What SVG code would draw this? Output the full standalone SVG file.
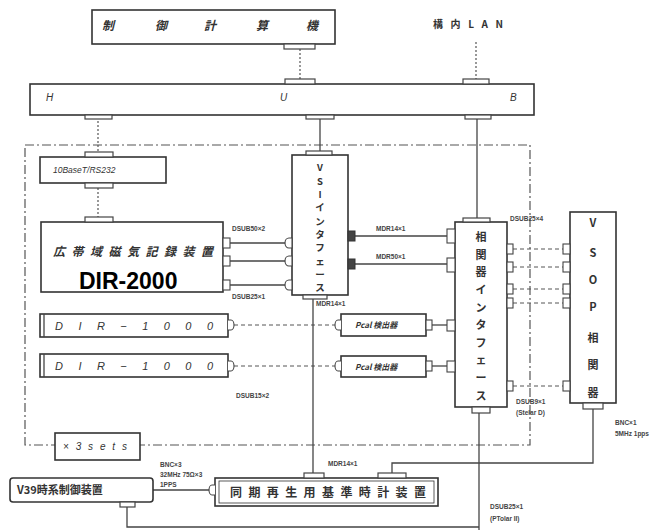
<svg xmlns="http://www.w3.org/2000/svg" width="672" height="530" viewBox="0 0 672 530">
<defs>
<style>
.box{fill:#fff;stroke:#333;stroke-width:1.6}
.tab{fill:#fff;stroke:#444;stroke-width:1.2}
.ln{fill:none;stroke:#444;stroke-width:1.3}
.dot{fill:none;stroke:#555;stroke-width:1.2;stroke-dasharray:2 2}
.dash{fill:none;stroke:#555;stroke-width:1;stroke-dasharray:4 3}
.dd{fill:none;stroke:#555;stroke-width:1.2;stroke-dasharray:9 3 2 3}
.lbl{font-family:"Liberation Sans","Noto Sans CJK JP",sans-serif;font-size:6.5px;font-weight:bold;fill:#444}
.jp{font-family:"Noto Sans CJK JP","Liberation Sans",sans-serif;font-weight:bold;fill:#333}
.it{font-family:"Liberation Sans","Noto Sans CJK JP",sans-serif;font-style:italic;fill:#333}
.vt{font-family:"Noto Sans CJK JP","Liberation Sans",sans-serif;font-weight:bold;font-size:11px;fill:#333;text-anchor:middle}
.vs{font-family:"Noto Sans CJK JP","Liberation Sans",sans-serif;font-weight:bold;font-size:9.5px;fill:#333;text-anchor:middle}
.sq{fill:#fff;stroke:#444;stroke-width:1.1}
.dk{fill:#444;stroke:#333;stroke-width:1}
</style>
</defs>

<!-- boundary -->
<rect class="dd" x="25" y="145" width="505" height="300"/>

<g id="connectors">
<line class="dot" x1="300" y1="49" x2="300" y2="80"/>
<line class="dot" x1="476" y1="42" x2="476" y2="80"/>
<line class="dot" x1="98" y1="117" x2="98" y2="152"/>
<line class="ln" x1="320" y1="119" x2="320" y2="151"/>
<line class="ln" x1="477" y1="119" x2="477" y2="218"/>
<line class="dot" x1="98" y1="188" x2="98" y2="217"/>
<line class="ln" x1="230" y1="243" x2="287" y2="243"/>
<line class="ln" x1="230" y1="261" x2="287" y2="261"/>
<line class="ln" x1="230" y1="285" x2="287" y2="285"/>
<line class="ln" x1="355" y1="236" x2="447" y2="236"/>
<line class="ln" x1="355" y1="264" x2="447" y2="264"/>
<line class="dash" x1="513" y1="249" x2="563" y2="249"/>
<line class="dash" x1="513" y1="267" x2="563" y2="267"/>
<line class="dash" x1="513" y1="289" x2="563" y2="289"/>
<line class="dash" x1="513" y1="303" x2="563" y2="303"/>
<line class="dash" x1="513" y1="386" x2="563" y2="386"/>
<line class="dash" x1="234" y1="325" x2="335" y2="325"/>
<line class="dash" x1="234" y1="366" x2="335" y2="366"/>
<line class="ln" x1="432" y1="325" x2="447" y2="325"/>
<line class="ln" x1="432" y1="366" x2="447" y2="366"/>
<line class="ln" x1="313" y1="299" x2="313" y2="473"/>
<line class="ln" x1="479" y1="413" x2="479" y2="530"/>
<polyline class="ln" points="593,409 593,463 392,463 392,473"/>
<polyline class="ln" points="127,507 127,527 479,527"/>
<line class="ln" x1="153" y1="490" x2="211" y2="490"/>
</g>

<g id="ctrl">
<rect class="box" x="92" y="10" width="243" height="34"/>
<text class="jp" font-size="12" font-style="italic"><tspan x="102" y="30">制</tspan><tspan x="155" y="30">御</tspan><tspan x="204" y="30">計</tspan><tspan x="256" y="30">算</tspan><tspan x="306" y="30">機</tspan></text>
<rect class="tab" x="284" y="44" width="31" height="5"/>
</g>

<g id="lan">
<text class="jp" x="433" y="28" font-size="10" textLength="70" lengthAdjust="spacing">構内LAN</text>
</g>

<g id="hub">
<rect class="box" x="30" y="84" width="504" height="31"/>
<rect class="tab" x="285" y="79" width="30" height="5"/>
<rect class="tab" x="463" y="79" width="26" height="5"/>
<rect class="tab" x="85" y="115" width="27" height="4"/>
<rect class="tab" x="306" y="115" width="28" height="4"/>
<rect class="tab" x="465" y="115" width="26" height="4"/>
<text class="it" x="46" y="101" font-size="10">H</text>
<text class="it" x="280" y="101" font-size="10">U</text>
<text class="it" x="510" y="101" font-size="10">B</text>
</g>

<g id="base">
<rect class="box" x="40" y="157" width="126" height="26"/>
<rect class="tab" x="85" y="152" width="28" height="5"/>
<rect class="tab" x="85" y="183" width="28" height="5"/>
<text class="it" x="53" y="173" font-size="8.5">10BaseT/RS232</text>
</g>

<g id="dir2000">
<rect class="box" x="41" y="222" width="182" height="70"/>
<rect class="tab" x="85" y="217" width="28" height="5"/>
<text class="jp" x="53" y="256" font-size="12" font-style="italic" textLength="160" lengthAdjust="spacing">広帯域磁気記録装置</text>
<text x="79" y="289" font-family="Liberation Sans,Arial,sans-serif" font-weight="bold" font-size="23" fill="#000">DIR-2000</text>
<rect class="sq" x="223" y="238" width="7" height="10"/>
<rect class="sq" x="223" y="256" width="7" height="10"/>
<rect class="sq" x="223" y="280" width="7" height="10"/>
</g>

<g id="vsi">
<rect class="box" x="292" y="155" width="56" height="140"/>
<rect class="tab" x="306" y="151" width="26" height="4"/>
<rect class="tab" x="303" y="295" width="24" height="4"/>
<path class="sq" d="M292,238 h-3 a4,5 0 0 0 0,10 h3 z"/>
<path class="sq" d="M292,256 h-3 a4,5 0 0 0 0,10 h3 z"/>
<path class="sq" d="M292,280 h-3 a4,5 0 0 0 0,10 h3 z"/>
<rect class="dk" x="348" y="231" width="7" height="10"/>
<rect class="dk" x="348" y="259" width="7" height="10"/>
<text class="vs"><tspan x="320" y="171">V</tspan><tspan x="320" y="184.5">S</tspan><tspan x="320" y="198">I</tspan><tspan x="320" y="211">イ</tspan><tspan x="320" y="224.5">ン</tspan><tspan x="320" y="238">タ</tspan><tspan x="320" y="251">フ</tspan><tspan x="320" y="264.5">ェ</tspan><tspan x="320" y="278">ー</tspan><tspan x="320" y="291">ス</tspan></text>
</g>

<g id="corr">
<rect class="box" x="455" y="222" width="52" height="185"/>
<rect class="tab" x="463" y="218" width="27" height="4"/>
<rect class="tab" x="472" y="407" width="18" height="6"/>
<rect class="sq" x="447" y="229" width="8" height="14"/>
<rect class="sq" x="447" y="258" width="8" height="14"/>
<rect class="sq" x="447" y="320" width="8" height="11"/>
<rect class="sq" x="447" y="361" width="8" height="11"/>
<rect class="sq" x="507" y="244" width="6" height="10"/>
<rect class="sq" x="507" y="262" width="6" height="10"/>
<rect class="sq" x="507" y="284" width="6" height="10"/>
<rect class="sq" x="507" y="298" width="6" height="10"/>
<rect class="sq" x="507" y="381" width="6" height="10"/>
<text class="vt"><tspan x="481" y="241">相</tspan><tspan x="481" y="259">関</tspan><tspan x="481" y="276">器</tspan><tspan x="481" y="294">イ</tspan><tspan x="481" y="312">ン</tspan><tspan x="481" y="329">タ</tspan><tspan x="481" y="347">フ</tspan><tspan x="481" y="364">ェ</tspan><tspan x="481" y="382">ー</tspan><tspan x="481" y="400">ス</tspan></text>
</g>

<g id="vsop">
<rect class="box" x="570" y="212" width="46" height="191"/>
<rect class="tab" x="583" y="403" width="20" height="6"/>
<rect class="sq" x="563" y="244" width="7" height="10"/>
<rect class="sq" x="563" y="262" width="7" height="10"/>
<rect class="sq" x="563" y="284" width="7" height="10"/>
<rect class="sq" x="563" y="298" width="7" height="10"/>
<rect class="sq" x="563" y="381" width="7" height="10"/>
<text class="vt"><tspan x="593" y="227">V</tspan><tspan x="593" y="257">S</tspan><tspan x="593" y="284">O</tspan><tspan x="593" y="311">P</tspan><tspan x="593" y="342">相</tspan><tspan x="593" y="369">関</tspan><tspan x="593" y="397">器</tspan></text>
</g>

<g id="dir1000a">
<rect class="box" x="40" y="314" width="188" height="23"/>
<line class="ln" x1="44" y1="314" x2="44" y2="337"/>
<path class="sq" d="M228,320 h3 a3,5 0 0 1 0,10 h-3"/>
<text class="it" x="55" y="330" font-size="11" textLength="158" lengthAdjust="spacing">DIR−1000</text>
</g>
<g id="dir1000b">
<rect class="box" x="40" y="354" width="188" height="23"/>
<line class="ln" x1="44" y1="354" x2="44" y2="377"/>
<path class="sq" d="M228,361 h3 a3,5 0 0 1 0,10 h-3"/>
<text class="it" x="55" y="370" font-size="11" textLength="158" lengthAdjust="spacing">DIR−1000</text>
</g>

<g id="pcal1">
<rect class="box" x="341" y="314" width="85" height="22"/>
<path class="sq" d="M341,320 h-3 a3,5 0 0 0 0,10 h3"/>
<rect class="sq" x="426" y="320" width="6" height="10"/>
<text class="jp" x="355" y="328" font-size="8" font-style="italic">Pcal 検出器</text>
</g>
<g id="pcal2">
<rect class="box" x="341" y="356" width="85" height="21"/>
<path class="sq" d="M341,361 h-3 a3,5 0 0 0 0,10 h3"/>
<rect class="sq" x="426" y="361" width="6" height="10"/>
<text class="jp" x="355" y="370" font-size="8" font-style="italic">Pcal 検出器</text>
</g>

<g id="sets">
<rect class="box" x="55" y="433" width="85" height="27"/>
<text class="it" x="63" y="450" font-size="10" textLength="64" lengthAdjust="spacing">×3sets</text>
</g>

<g id="v39">
<rect class="box" x="10" y="478" width="143" height="24" rx="3"/>
<rect class="tab" x="120" y="502" width="15" height="5"/>
<text class="jp" x="17" y="494" font-size="11">V39時系制御装置</text>
</g>

<g id="clock">
<rect class="box" x="215" y="478" width="223" height="28"/>
<rect fill="none" stroke="#333" stroke-width="0.8" x="219" y="481" width="215" height="22"/>
<path class="sq" d="M215,485 h-3 a3,5 0 0 0 0,10 h3"/>
<rect class="tab" x="304" y="473" width="20" height="5"/>
<rect class="tab" x="378" y="473" width="28" height="5"/>
<text class="jp" x="230" y="497" font-size="12" textLength="196" lengthAdjust="spacing">同期再生用基準時計装置</text>
</g>

<g id="labels">
<text class="lbl" x="232" y="231">DSUB50×2</text>
<text class="lbl" x="232" y="299">DSUB25×1</text>
<text class="lbl" x="376" y="231">MDR14×1</text>
<text class="lbl" x="376" y="259">MDR50×1</text>
<text class="lbl" x="510" y="221">DSUB25×4</text>
<text class="lbl" x="316" y="306">MDR14×1</text>
<text class="lbl" x="236" y="398">DSUB15×2</text>
<text class="lbl" x="516" y="404">DSUB9×1</text>
<text class="lbl" x="516" y="415">(Stelar D)</text>
<text class="lbl" x="615" y="425">BNC×1</text>
<text class="lbl" x="615" y="436">5MHz 1pps</text>
<text class="lbl" x="160" y="467">BNC×3</text>
<text class="lbl" x="160" y="477">32MHz 75Ω×3</text>
<text class="lbl" x="160" y="487">1PPS</text>
<text class="lbl" x="328" y="466">MDR14×1</text>
<text class="lbl" x="490" y="509">DSUB25×1</text>
<text class="lbl" x="490" y="521">(PTolar II)</text>
</g>
</svg>
